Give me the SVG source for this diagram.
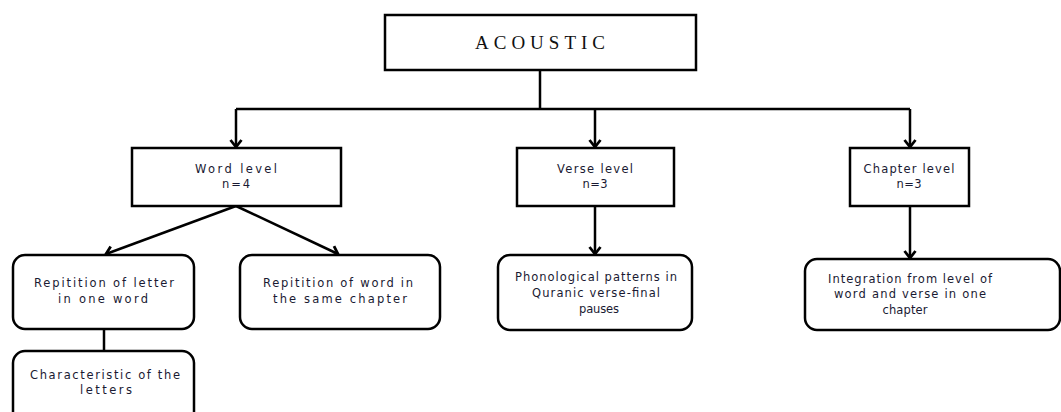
<svg xmlns="http://www.w3.org/2000/svg" width="1061" height="412" viewBox="0 0 1061 412">
<defs>
<marker id="arr" markerWidth="14" markerHeight="14" refX="11" refY="7" orient="auto" markerUnits="userSpaceOnUse" viewBox="0 0 14 14">
<path d="M4,1.5 L11,7 L4,12.5" fill="none" stroke="#000" stroke-width="2.8"/>
</marker>
<style>
.box{fill:#fff;stroke:#000;stroke-width:2.5}
.rbox{fill:#fff;stroke:#000;stroke-width:2.5}
.t{font-family:"DejaVu Sans",Verdana,sans-serif;font-size:11.5px;fill:#1a1a33;text-anchor:middle}
.ts{font-family:"Liberation Serif","Times New Roman",serif;font-size:19px;fill:#111;text-anchor:middle}
.c{fill:none;stroke:#000;stroke-width:2.5}
</style>
</defs>
<rect width="1061" height="412" fill="#fff"/>
<g id="connectors">
<path class="c" d="M540,70 V109" stroke-width="3.5"/>
<path class="c" d="M236,109 H910"/>
<path class="c" d="M236,109 V147" marker-end="url(#arr)"/>
<path class="c" d="M595,109 V147" marker-end="url(#arr)"/>
<path class="c" d="M910,109 V147" marker-end="url(#arr)"/>
<path class="c" d="M236,206 L106,254" marker-end="url(#arr)"/>
<path class="c" d="M236,206 L338,254" marker-end="url(#arr)"/>
<path class="c" d="M595,206 V254" marker-end="url(#arr)"/>
<path class="c" d="M910,206 V258" marker-end="url(#arr)" stroke-width="3"/>
<path class="c" d="M104,329 V351" stroke-width="3"/>
</g>
<g id="acoustic">
<rect class="box" x="385" y="15" width="311" height="55"/>
<text class="ts" x="540" y="49" textLength="130" lengthAdjust="spacing">ACOUSTIC</text>
</g>
<g id="word-level">
<rect class="box" x="132" y="148" width="209" height="58"/>
<text class="t" x="236" y="173" textLength="82" lengthAdjust="spacing">Word level</text>
<text class="t" x="236" y="188" textLength="28" lengthAdjust="spacing">n=4</text>
</g>
<g id="verse-level">
<rect class="box" x="517" y="148" width="157" height="58"/>
<text class="t" x="595" y="173" textLength="76" lengthAdjust="spacing">Verse level</text>
<text class="t" x="595" y="188" textLength="25" lengthAdjust="spacing">n=3</text>
</g>
<g id="chapter-level">
<rect class="box" x="850" y="148" width="119" height="58"/>
<text class="t" x="909" y="173" textLength="91" lengthAdjust="spacing">Chapter level</text>
<text class="t" x="909" y="188" textLength="25" lengthAdjust="spacing">n=3</text>
</g>
<g id="rep-letter">
<rect class="rbox" x="13" y="255" width="181" height="74" rx="12"/>
<text class="t" x="104" y="287" textLength="140" lengthAdjust="spacing">Repitition of letter</text>
<text class="t" x="103" y="303" textLength="90" lengthAdjust="spacing">in one word</text>
</g>
<g id="characteristic">
<rect class="rbox" x="13" y="351" width="181" height="80" rx="12"/>
<text class="t" x="105" y="379" textLength="150" lengthAdjust="spacing">Characteristic of the</text>
<text class="t" x="106" y="394" textLength="52" lengthAdjust="spacing">letters</text>
</g>
<g id="rep-word">
<rect class="rbox" x="240" y="255" width="200" height="74" rx="12"/>
<text class="t" x="338" y="287" textLength="150" lengthAdjust="spacing">Repitition of word in</text>
<text class="t" x="340" y="303" textLength="134" lengthAdjust="spacing">the same chapter</text>
</g>
<g id="phonological">
<rect class="rbox" x="498" y="255" width="194" height="75" rx="12"/>
<text class="t" x="596" y="281" textLength="162" lengthAdjust="spacing">Phonological patterns in</text>
<text class="t" x="596" y="297" textLength="128" lengthAdjust="spacing">Quranic verse-final</text>
<text class="t" x="599" y="313" textLength="40" lengthAdjust="spacing">pauses</text>
</g>
<g id="integration">
<rect class="rbox" x="805" y="259" width="255" height="71" rx="12"/>
<text class="t" x="910" y="283" textLength="164" lengthAdjust="spacing">Integration from level of</text>
<text class="t" x="910" y="298" textLength="152" lengthAdjust="spacing">word and verse in one</text>
<text class="t" x="905" y="314" textLength="45" lengthAdjust="spacing">chapter</text>
</g>
</svg>
